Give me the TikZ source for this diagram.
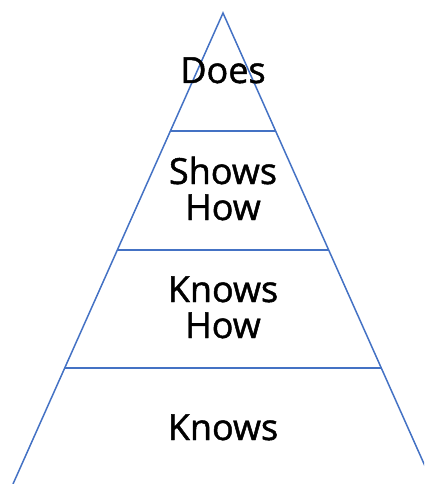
\documentclass[tikz,border=0pt]{standalone}
\usepackage{fontspec}
\setmainfont{Open Sans}
\newfontfamily\livellofont{Open Sans}[FakeBold=1.3]
\usepackage{tikz}
\usetikzlibrary{calc}
\definecolor{piramide}{HTML}{4472C4}
\tikzset{
    livello/.style = {font=\livellofont\fontsize{36}{36}\selectfont, align=center, anchor=base, inner sep=0pt},
    bordo/.style = {piramide, line width=1.5pt}
}

\begin{document}
\begin{tikzpicture}[x=1pt, y=-1pt]
    % Parametri
    \pgfmathsetmacro{\W}{424}
    \pgfmathsetmacro{\H}{484}
    \useasboundingbox (0,0) rectangle (\W,\H);
    % Vertici del triangolo
    \coordinate (apice) at (223,13);
    \coordinate (sx) at (13,484);
    \coordinate (dx) at (433,484);
    % Triangolo
    \begin{scope}
        \clip (0,0) rectangle (\W,\H);
        \draw[bordo] (sx) -- (apice) -- (dx);
    \end{scope}
    % Separatori
    \foreach \y in {131, 250, 368} {
        \pgfmathsetmacro{\t}{(\y-13)/471}
        \draw[bordo] ($(apice)!\t!(sx)$) -- ($(apice)!\t!(dx)$);
    }
    % Livelli (base = ultima riga)
    \node[livello] (does) at (223,83) {Does};
    \node[livello] (shows) at (223,220) {Shows\\How};
    \node[livello] (knowshow) at (223,338) {Knows\\How};
    \node[livello] (knows) at (223,440) {Knows};
\end{tikzpicture}
\end{document}
